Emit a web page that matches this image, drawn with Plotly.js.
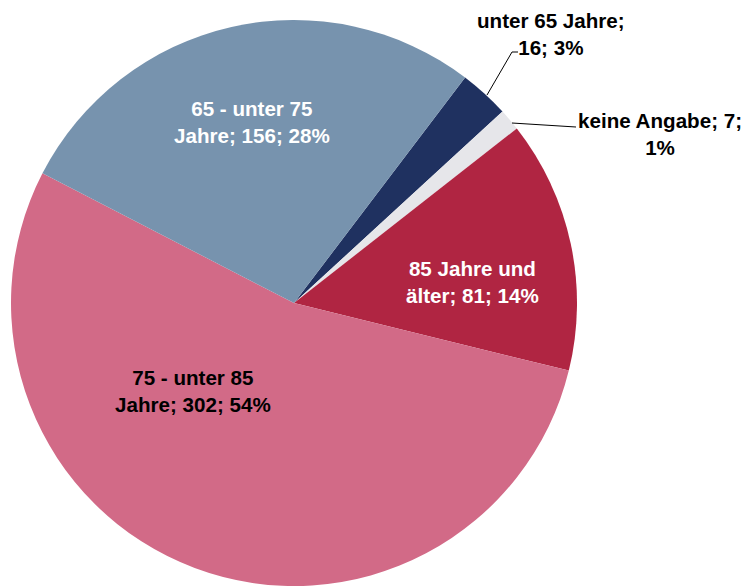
<!DOCTYPE html>
<html>
<head>
<meta charset="utf-8">
<script src="https://cdn.plot.ly/plotly-3.0.1.min.js"></script>
<style>html,body{margin:0;padding:0;background:#fff;overflow:hidden}#chart{width:748px;height:586px}</style>
</head>
<body>
<div id="chart"></div>
<script>
// Data
var categories = ["unter 65 Jahre", "keine Angabe", "85 Jahre und älter", "75 - unter 85 Jahre", "65 - unter 75 Jahre"];
var values = [16, 7, 81, 302, 156];
var percents = ["3%", "1%", "14%", "54%", "28%"];
var labelLines = [
  ["unter 65 Jahre;", "16; 3%"],
  ["keine Angabe; 7;", "1%"],
  ["85 Jahre und", "älter; 81; 14%"],
  ["75 - unter 85", "Jahre; 302; 54%"],
  ["65 - unter 75", "Jahre; 156; 28%"]
];
var colors = ["#1F3160", "#E6E6EA", "#B02542", "#D26A87", "#7793AE"];
var labelColors = ["#000000", "#000000", "#ffffff", "#000000", "#ffffff"];
// label positions in pixels (layout)
var labelPos = [[551, 34], [660, 134], [472, 282], [193, 391], [252, 122]];

var W = 748, H = 586;
function px(x){ return x / W; }
function py(y){ return 1 - y / H; }

var trace = {
  type: "pie",
  labels: categories,
  values: values,
  sort: false,
  direction: "clockwise",
  rotation: 37.2,
  marker: { colors: colors, line: { width: 0 } },
  textinfo: "none",
  hoverinfo: "label+value+percent",
  showlegend: false,
  domain: { x: [px(294 - 283), px(294 + 283)], y: [py(303 + 283), py(303 - 283)] }
};

var annotations = labelLines.map(function(l, i){
  return {
    xref: "paper", yref: "paper",
    x: px(labelPos[i][0]), y: py(labelPos[i][1]),
    xanchor: "center", yanchor: "middle",
    text: l.join("<br>"),
    showarrow: false,
    align: "center",
    font: { family: "Liberation Sans, Arial, sans-serif", size: 20.6, color: labelColors[i], weight: "bold" }
  };
});

var shapes = [
  { type: "path", xref: "paper", yref: "paper",
    path: "M " + px(487) + "," + py(95) + " L " + px(512) + "," + py(52) + " L " + px(518) + "," + py(52),
    line: { color: "#000", width: 1 } },
  { type: "line", xref: "paper", yref: "paper",
    x0: px(512), y0: py(123), x1: px(576), y1: py(127),
    line: { color: "#000", width: 1 } }
];

var layout = {
  width: W, height: H,
  margin: { l: 0, r: 0, t: 0, b: 0 },
  paper_bgcolor: "#fff",
  annotations: annotations,
  shapes: shapes
};

Plotly.newPlot("chart", [trace], layout, { displayModeBar: false, staticPlot: true });
</script>
</body>
</html>
